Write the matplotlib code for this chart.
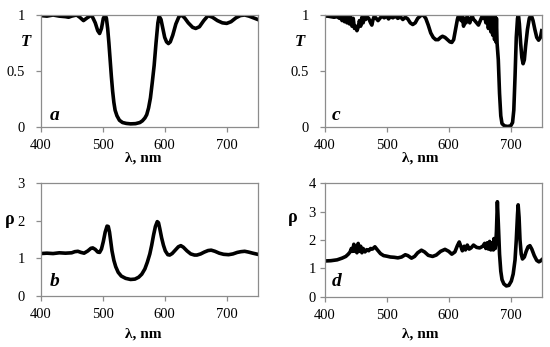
import matplotlib
matplotlib.use("Agg")
import matplotlib.pyplot as plt

plt.rcParams['font.family'] = ['Liberation Serif', 'DejaVu Serif']

# panel a: transmission T
a_x = [400, 410, 420, 430, 440, 445, 450, 458, 463, 469, 475, 482, 488, 492, 495, 498, 501, 504,
       506, 508, 510, 512, 514, 516, 518, 520, 523, 527, 532, 538, 545, 553, 560, 564, 568, 571,
       574, 577, 580, 583, 586, 589, 591, 594, 597, 600, 603, 606, 609, 613, 618, 623, 627, 632,
       638, 645, 650, 656, 663, 670, 677, 685, 693, 700, 707, 715, 722, 729, 736, 743, 750]
a_y = [0.995, 0.99, 1.0, 0.99, 0.985, 0.98, 0.99, 1.0, 0.98, 0.95, 0.975, 1.0, 0.93, 0.86, 0.835,
       0.88, 0.97, 1.0, 0.97, 0.88, 0.75, 0.6, 0.45, 0.32, 0.22, 0.15, 0.1, 0.06, 0.04, 0.032,
       0.028, 0.03, 0.04, 0.055, 0.08, 0.11, 0.17, 0.26, 0.4, 0.55, 0.75, 0.93, 0.99, 0.96, 0.88,
       0.8, 0.76, 0.745, 0.76, 0.82, 0.92, 0.985, 1.0, 0.975, 0.93, 0.89, 0.88, 0.895, 0.95, 0.995,
       0.98, 0.95, 0.93, 0.925, 0.94, 0.975, 0.995, 1.0, 0.99, 0.975, 0.96]

# panel b: rho
b_x = [400, 410, 420, 430, 440, 450, 455, 460, 465, 470, 476, 481, 484, 488, 492, 495, 498, 501,
       504, 507, 509, 511, 513, 515, 518, 521, 525, 530, 537, 545, 552, 558, 563, 568, 572, 576,
       579, 582, 585, 588, 590, 592, 595, 598, 601, 605, 608, 612, 617, 622, 626, 630, 636, 642,
       648, 652, 658, 664, 670, 675, 681, 688, 695, 703, 710, 717, 723, 729, 735, 742, 750]
b_y = [1.13, 1.14, 1.13, 1.15, 1.14, 1.15, 1.18, 1.19, 1.16, 1.14, 1.2, 1.27, 1.28, 1.24, 1.17,
       1.16, 1.25, 1.45, 1.7, 1.86, 1.85, 1.7, 1.45, 1.2, 0.95, 0.78, 0.63, 0.53, 0.47, 0.44, 0.45,
       0.5, 0.58, 0.72, 0.9, 1.12, 1.35, 1.62, 1.85, 1.98, 1.95, 1.8, 1.55, 1.35, 1.2, 1.1, 1.09,
       1.13, 1.22, 1.31, 1.34, 1.3, 1.2, 1.12, 1.09, 1.09, 1.12, 1.17, 1.21, 1.22, 1.19, 1.14,
       1.11, 1.1, 1.12, 1.16, 1.18, 1.19, 1.17, 1.14, 1.11]

# panel c: transmission T
c_x = [400, 405, 410, 415, 420, 424, 426, 428, 430, 432, 434, 436, 438, 440, 442, 444, 446, 448,
       450, 452, 454, 456, 458, 460, 462, 464, 466, 468, 471, 474, 476, 478, 480, 483, 486, 489,
       492, 496, 500, 503, 506, 510, 514, 518, 522, 526, 530, 534, 538, 542, 546, 550, 555, 559,
       563, 567, 571, 575, 579, 583, 587, 590, 594, 598, 602, 605, 608, 611, 614, 616, 618, 620,
       622, 624, 626, 628, 630, 632, 634, 636, 638, 640, 642, 645, 648, 651, 654, 656, 658, 660,
       662, 664, 666, 668, 669, 671, 672, 674, 675, 676, 677, 678, 680, 682, 684, 686, 690, 695,
       700, 703, 705, 707, 709, 711, 712.5, 714, 716, 718, 720, 722, 724, 727, 730, 733, 736, 739,
       742, 745, 748, 750]
c_y = [0.99, 0.99, 0.985, 0.98, 0.985, 0.97, 0.99, 0.95, 0.99, 0.94, 0.99, 0.93, 0.985, 0.92,
       0.98, 0.9, 0.97, 0.88, 0.9, 0.86, 0.89, 0.95, 0.9, 0.98, 0.93, 0.99, 0.96, 0.985, 0.97, 0.93,
       0.91, 0.96, 0.99, 0.97, 0.95, 0.97, 0.99, 0.975, 0.99, 0.965, 0.985, 0.975, 0.99, 0.97,
       0.985, 0.96, 0.98, 0.965, 0.93, 0.915, 0.93, 0.97, 0.995, 1.0, 0.97, 0.91, 0.84, 0.8, 0.78,
       0.78, 0.8, 0.81, 0.8, 0.78, 0.76, 0.755, 0.78, 0.87, 0.96, 1.0, 0.985, 0.95, 0.99, 0.9,
       0.97, 0.93, 0.99, 0.96, 0.93, 0.97, 0.99, 0.96, 0.95, 0.93, 0.91, 0.95, 0.99, 0.97, 0.99,
       0.93, 0.99, 0.88, 0.99, 0.85, 0.99, 0.82, 0.99, 0.78, 0.99, 0.76, 0.97, 0.75, 0.6, 0.3, 0.1,
       0.03, 0.01, 0.005, 0.01, 0.04, 0.15, 0.45, 0.8, 0.97, 1.0, 0.92, 0.75, 0.62, 0.565, 0.6,
       0.72, 0.87, 0.97, 1.0, 0.95, 0.87, 0.8, 0.775, 0.8, 0.86]

# panel d: rho
d_x = [400, 410, 420, 428, 434, 438, 441, 443, 445, 447, 449, 451, 452, 454, 456, 458, 460, 462,
       465, 468, 471, 474, 477, 481, 485, 490, 495, 500, 506, 512, 518, 524, 530, 534, 540, 545,
       550, 556, 561, 567, 574, 580, 587, 594, 600, 605, 610, 614, 617, 620, 622, 625, 627, 630,
       633, 636, 640, 645, 650, 655, 658, 660, 662, 664, 666, 668, 670, 672, 673, 675, 676, 677,
       678.5, 680, 682, 684, 686, 689, 693, 697, 701, 704, 707, 709, 711, 712, 713.5, 715, 717,
       719, 722, 725, 728, 731, 734, 738, 742, 745.5, 748, 750]
d_y = [1.26, 1.27, 1.3, 1.36, 1.42, 1.5, 1.58, 1.7, 1.6, 1.85, 1.6, 1.75, 1.55, 1.88, 1.6, 1.78,
       1.55, 1.7, 1.58, 1.66, 1.62, 1.7, 1.68, 1.76, 1.65, 1.52, 1.45, 1.43, 1.4, 1.39, 1.37, 1.4,
       1.48, 1.45, 1.36, 1.42, 1.55, 1.64, 1.58, 1.46, 1.42, 1.47, 1.6, 1.67, 1.6, 1.5, 1.58, 1.8,
       1.93, 1.75, 1.62, 1.78, 1.65, 1.82, 1.68, 1.72, 1.82, 1.74, 1.72, 1.78, 1.88, 1.7, 1.9,
       1.68, 1.95, 1.65, 1.9, 1.65, 2.05, 1.7, 1.9, 2.3, 3.35, 2.6, 1.5, 0.9, 0.6, 0.45, 0.38, 0.4,
       0.55, 0.8, 1.3, 2.0, 2.9, 3.24, 2.8, 2.0, 1.5, 1.33, 1.4, 1.6, 1.76, 1.8, 1.68, 1.45, 1.28,
       1.23, 1.26, 1.3]

x_ticks = [400, 500, 600, 700]
grey = '#8c8c8c'
W, H = 550, 347

fig = plt.figure(figsize=(5.5, 3.47), dpi=100)


def px_ax(left, top, right, bottom):
    return fig.add_axes([left / W, 1 - bottom / H, (right - left) / W, (bottom - top) / H])


def style(ax, ymax, yticks, ylabels, ypad):
    ax.set_xlim(400, 750)
    ax.set_ylim(0, ymax)
    ax.set_xticks(x_ticks)
    ax.set_yticks(yticks)
    ax.set_yticklabels(ylabels)
    for s in ax.spines.values():
        s.set_color(grey)
        s.set_linewidth(0.9)
    ax.tick_params(axis='both', color=grey, length=3.5, width=0.9, labelsize=10.5)
    ax.tick_params(axis='x', pad=5)
    ax.tick_params(axis='y', pad=ypad)


ax_a = px_ax(40.7, 15, 257.7, 127)
ax_b = px_ax(40.7, 183.3, 257.7, 296)
ax_c = px_ax(324.7, 15, 541.7, 127)
ax_d = px_ax(324.7, 183.3, 541.7, 296.7)

ax_a.plot(a_x, a_y, color='black', lw=2.6)
ax_b.plot(b_x, b_y, color='black', lw=2.6)
ax_c.plot(c_x, c_y, color='black', lw=2.6)
ax_d.plot(d_x, d_y, color='black', lw=2.6)

style(ax_a, 1, [0, 0.5, 1], ['0', '0.5', '1'], 8)
style(ax_c, 1, [0, 0.5, 1], ['0', '0.5', '1'], 8)
style(ax_b, 3, [0, 1, 2, 3], ['0', '1', '2', '3'], 8)
style(ax_d, 4, [0, 1, 2, 3, 4], ['0', '1', '2', '3', '4'], 3)

lab = dict(fontsize=14, fontweight='bold', fontstyle='italic', ha='left', va='center')
ax_a.text(415, 0.107, 'a', **lab)
ax_b.text(415, 0.38, 'b', **lab)
ax_c.text(412, 0.107, 'c', **lab)
ax_d.text(412, 0.53, 'd', **lab)

fig.text(26 / W, 1 - 42 / H, 'T', fontsize=12, fontweight='bold', fontstyle='italic',
         ha='center', va='center')
fig.text(300 / W, 1 - 42 / H, 'T', fontsize=12, fontweight='bold', fontstyle='italic',
         ha='center', va='center')
fig.text(10 / W, 1 - 220 / H, 'ρ', fontsize=13, fontweight='bold', ha='center', va='center')
fig.text(293 / W, 1 - 217 / H, 'ρ', fontsize=13, fontweight='bold', ha='center', va='center')

for xc, yc in [(143, 158.5), (420, 158.5), (143, 334), (420, 334)]:
    fig.text(xc / W, 1 - yc / H, 'λ, nm', fontsize=11, fontweight='bold',
             ha='center', va='center')

fig.savefig('out.png', dpi=100)
